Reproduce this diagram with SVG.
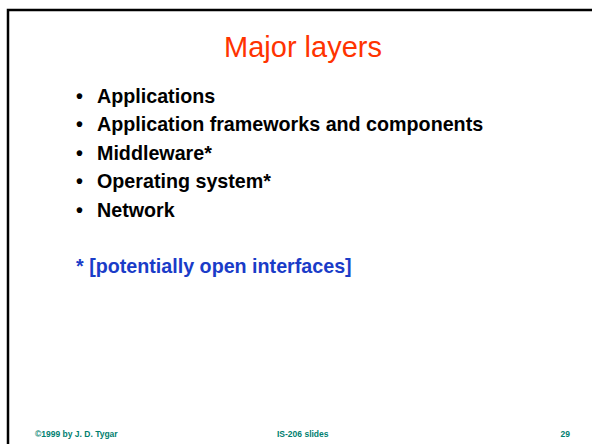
<svg xmlns="http://www.w3.org/2000/svg" width="592" height="444" viewBox="0 0 592 444">
<style>
.title{font-family:"Liberation Sans",Arial,sans-serif;font-size:29px;fill:#ff3300}
.item{font-family:"Liberation Sans",Arial,sans-serif;font-size:19.7px;font-weight:bold;fill:#000}
.note{font-family:"Liberation Sans",Arial,sans-serif;font-size:19.7px;font-weight:bold;fill:#1a3cc8}
.foot{font-family:"Liberation Sans",Arial,sans-serif;font-size:8.5px;font-weight:bold;fill:#008070}
</style>
<rect x="0" y="0" width="592" height="444" fill="#fff"/>
<rect id="frame" x="8" y="10" width="600" height="450" fill="none" stroke="#000" stroke-width="2.5"/>
<g id="title"><text class="title" x="303" y="57" text-anchor="middle">Major layers</text></g>
<g id="bullets">
<text class="item" x="76" y="103">•</text><text class="item" x="97" y="103">Applications</text>
<text class="item" x="76" y="131.4">•</text><text class="item" x="97" y="131.4">Application frameworks and components</text>
<text class="item" x="76" y="159.8">•</text><text class="item" x="97" y="159.8">Middleware*</text>
<text class="item" x="76" y="188.2">•</text><text class="item" x="97" y="188.2">Operating system*</text>
<text class="item" x="76" y="216.6">•</text><text class="item" x="97" y="216.6">Network</text>
</g>
<g id="note"><text class="note" x="76" y="273">* [potentially open interfaces]</text></g>
<g id="footer">
<text class="foot" x="35" y="437">©1999 by J. D. Tygar</text>
<text class="foot" x="277" y="437">IS-206 slides</text>
<text class="foot" x="570" y="437" text-anchor="end">29</text>
</g>
</svg>
